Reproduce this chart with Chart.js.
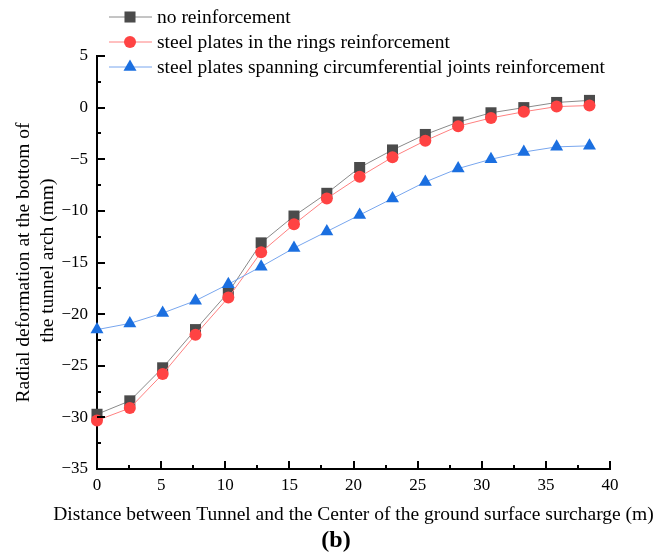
<!DOCTYPE html>
<html lang="en">
<head>
<meta charset="UTF-8" />
<title>Radial deformation at the bottom of the tunnel arch</title>
<script src="https://cdn.jsdelivr.net/npm/chart.js@4.4.0/dist/chart.umd.min.js"></script>
<style>
  body { margin: 0; background: #fff; }
</style>
</head>
<body>
<canvas id="chart" width="654" height="552"></canvas>
<script>

// distance from tunnel to surcharge centre (m)
const distances = [0, 2.56, 5.12, 7.68, 10.24, 12.8, 15.36, 17.92, 20.48, 23.04, 25.6, 28.16, 30.72, 33.28, 35.84, 38.4];

// radial deformation (mm)
const noReinforcement = [-29.7, -28.4, -25.2, -21.5, -17.9, -13.1, -10.5, -8.3, -5.8, -4.1, -2.6, -1.4, -0.5, 0.0, 0.5, 0.7];
const ringPlates = [-30.3, -29.1, -25.8, -22.0, -18.4, -14.0, -11.3, -8.8, -6.7, -4.8, -3.2, -1.8, -1.0, -0.4, 0.1, 0.2];
const jointPlates = [-21.5, -20.9, -19.9, -18.7, -17.1, -15.4, -13.6, -12.0, -10.4, -8.8, -7.2, -5.9, -5.0, -4.3, -3.8, -3.7];

const seriesNames = [
    'no reinforcement',
    'steel plates in the rings reinforcement',
    'steel plates spanning circumferential joints reinforcement'
];

const xTickValues = [0, 5, 10, 15, 20, 25, 30, 35, 40];
const yTickValues = [-35, -30, -25, -20, -15, -10, -5, 0, 5];

const xTitle = 'Distance between Tunnel and the Center of the ground surface surcharge (m)';
const yTitleLines = ['Radial deformation at the bottom of', 'the tunnel arch (mm)'];
const panelLabel = '(b)';

const serif = "'Liberation Serif', 'Times New Roman', serif";

const styles = [
    { marker: '#4b4b4b', line: '#8a8a8a', pointStyle: 'rect', radius: 7.8 },
    { marker: '#ff4343', line: '#ff8080', pointStyle: 'circle', radius: 6 },
    { marker: '#1b6fe0', line: '#78a6ee', pointStyle: 'triangle', radius: 7.5 }
];

function toPoints(values) {
    return distances.map((x, i) => ({ x: x, y: values[i] }));
}

const seriesValues = [noReinforcement, ringPlates, jointPlates];

const datasets = seriesValues.map((vals, i) => ({
    label: seriesNames[i],
    data: toPoints(vals),
    borderColor: styles[i].line,
    borderWidth: 1,
    backgroundColor: styles[i].marker,
    pointBackgroundColor: styles[i].marker,
    pointBorderWidth: 0,
    pointStyle: styles[i].pointStyle,
    pointRadius: styles[i].radius,
    tension: 0,
    clip: false,
    order: 3 - i
}));

// inward ticks, legend, titles
const decorations = {
    id: 'decorations',
    afterDraw(chart) {
        const ctx = chart.ctx;
        const xs = chart.scales.x;
        const ys = chart.scales.y;
        const area = chart.chartArea;

        ctx.save();
        ctx.strokeStyle = '#000';
        ctx.lineWidth = 2;
        ctx.beginPath();
        for (let v = 0; v <= 40; v += 2.5) {
            const px = Math.round(xs.getPixelForValue(v));
            const len = v % 5 === 0 ? 8 : 4;
            ctx.moveTo(px, area.bottom);
            ctx.lineTo(px, area.bottom - len);
        }
        for (let v = -35; v <= 5; v += 2.5) {
            const py = Math.round(ys.getPixelForValue(v));
            const len = v % 5 === 0 ? 8 : 4;
            ctx.moveTo(area.left, py);
            ctx.lineTo(area.left + len, py);
        }
        ctx.stroke();

        // legend
        const rows = [17, 42, 67];
        ctx.font = '19.5px ' + serif;
        ctx.textBaseline = 'middle';
        ctx.textAlign = 'left';
        rows.forEach((y, i) => {
            ctx.strokeStyle = styles[i].line;
            ctx.lineWidth = 1;
            ctx.beginPath();
            ctx.moveTo(109, y);
            ctx.lineTo(152, y);
            ctx.stroke();
            ctx.fillStyle = styles[i].marker;
            Chart.helpers.drawPoint(ctx, {
                pointStyle: styles[i].pointStyle,
                radius: styles[i].radius,
                rotation: 0,
                borderWidth: 0
            }, 130, y);
            ctx.fillStyle = '#000';
            ctx.fillText(seriesNames[i], 157, y + 1);
        });

        // axis titles
        ctx.fillStyle = '#000';
        ctx.textAlign = 'center';
        ctx.fillText(xTitle, (area.left + area.right) / 2, 515);

        const yMid = (area.top + area.bottom) / 2;
        ctx.save();
        ctx.translate(24, yMid);
        ctx.rotate(-Math.PI / 2);
        ctx.fillText(yTitleLines[0], 0, 0);
        ctx.restore();
        ctx.save();
        ctx.translate(48, yMid - 2);
        ctx.rotate(-Math.PI / 2);
        ctx.fillText(yTitleLines[1], 0, 0);
        ctx.restore();

        ctx.font = 'bold 24px ' + serif;
        ctx.fillText(panelLabel, 336, 541);
        ctx.restore();
    }
};

const ctx = document.getElementById('chart').getContext('2d');

const myChart = new Chart(ctx, {
    type: 'line',
    data: { datasets: datasets },
    options: {
        responsive: false,
        animation: false,
        layout: { padding: { top: 56, right: 44, left: 0, bottom: 0 } },
        plugins: {
            legend: { display: false },
            tooltip: { enabled: false }
        },
        scales: {
            x: {
                type: 'linear',
                min: 0,
                max: 40,
                afterBuildTicks: s => { s.ticks = xTickValues.map(v => ({ value: v })); },
                ticks: {
                    color: '#000',
                    font: { family: serif, size: 17 },
                    padding: 6,
                    maxRotation: 0
                },
                grid: { display: false, drawTicks: false },
                border: { color: '#000', width: 2 },
                afterFit: s => { s.height = 83; }
            },
            y: {
                type: 'linear',
                min: -35,
                max: 5,
                afterBuildTicks: s => { s.ticks = yTickValues.map(v => ({ value: v })); },
                ticks: {
                    color: '#000',
                    font: { family: serif, size: 17 },
                    padding: 9,
                    callback: v => String(v).replace('-', '\u2212')
                },
                grid: { display: false, drawTicks: false },
                border: { color: '#000', width: 2 },
                afterFit: s => { s.width = 97; }
            }
        }
    },
    plugins: [decorations]
});

</script>
</body>
</html>
